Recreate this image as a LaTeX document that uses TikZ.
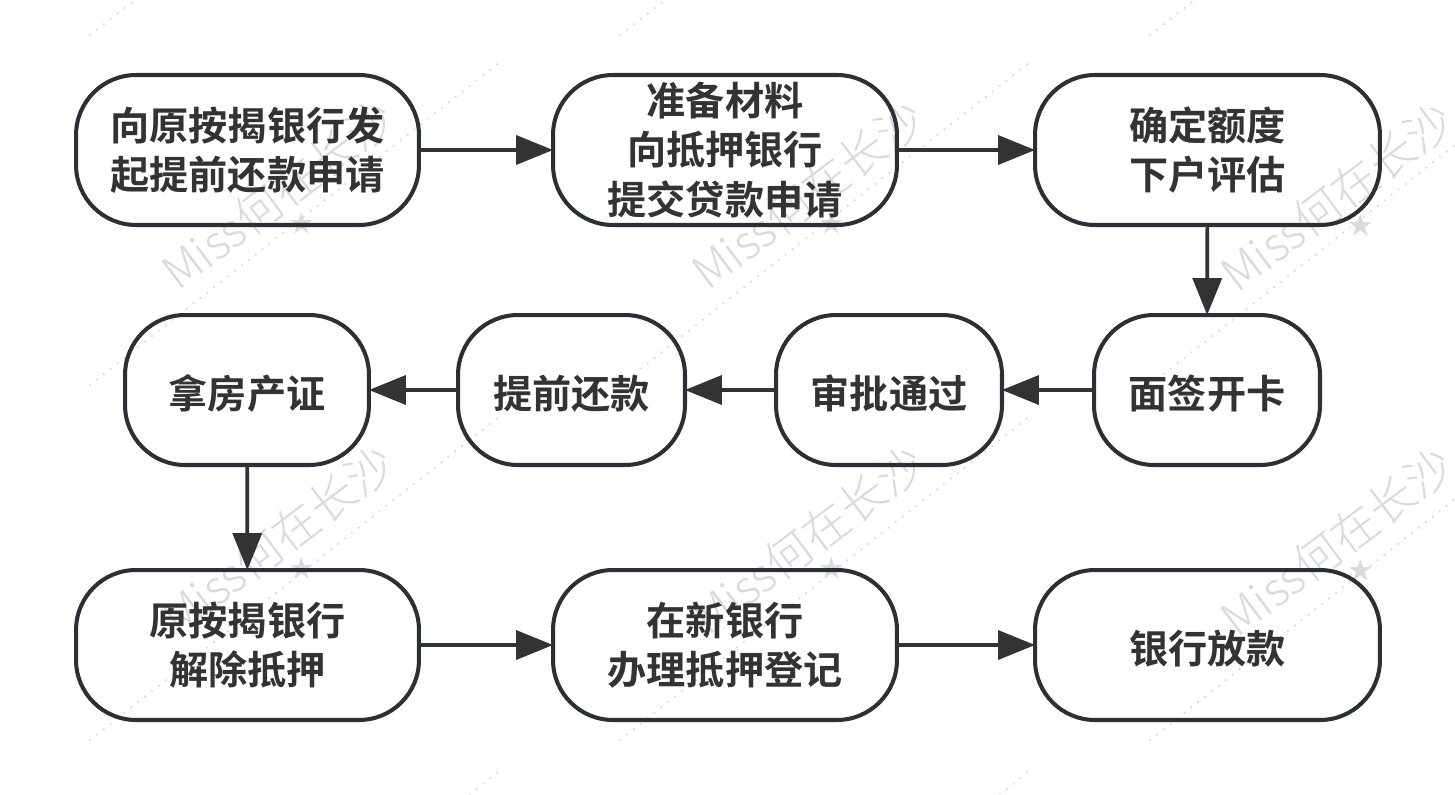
\documentclass[tikz,border=0pt]{standalone}
\usepackage{fontspec}
\setmainfont[BoldFont=* Bold]{Noto Sans CJK SC}
\newfontfamily\wmfont{Noto Sans CJK SC Light}
\usetikzlibrary{arrows.meta}
\definecolor{boxline}{HTML}{2B3036}
\definecolor{inkgray}{HTML}{333333}
\definecolor{wmgray}{HTML}{D9DADD}
\tikzset{
  flowbox/.style={draw=boxline,line width=2.3pt,rounded corners=1.2cm,minimum height=3cm,
    align=center,text=inkgray,inner sep=0pt,outer sep=0pt,
    font=\fontsize{22.3}{28}\selectfont\bfseries,
    execute at begin node={\rule{0pt}{1.03em}}},
  flowarrow/.style={draw=inkgray,line width=2.1pt,-{Triangle[length=0.74cm,width=0.58cm]}},
  wmtext/.style={text=wmgray,rotate=37,inner sep=0pt,font=\wmfont\fontsize{26.4}{26.4}\selectfont},
  wmstar/.style={text=wmgray,inner sep=0pt,font=\fontsize{14}{14}\selectfont},
  wmdots/.style={draw=wmgray,line width=1.4pt,line cap=round,dash pattern=on 0pt off 5pt}
}
\begin{document}
\begin{tikzpicture}[x=0.02cm,y=-0.02cm]
  \useasboundingbox (0,0) rectangle (1455,795);

  % 水印
  \foreach \wx/\wy/\wname in {278/195/wa,808/195/wb,1337/197/wc,278/540/wd,808/540/we,1337/542/wf}{
    \node[wmtext] (\wname) at (\wx,\wy) {Miss何在长沙};
    \node[wmstar] (\wname star) at (\wx+24,\wy+28) {★};
  }
  \foreach \dx in {0,530,1060}{
    \draw[wmdots] (90+\dx,35) -- (135+\dx,0);
    \draw[wmdots] (90+\dx,385) -- ({min(500+\dx,1455)},{\dx>1000 ? 145 : 62});
    \draw[wmdots] (90+\dx,740) -- ({min(500+\dx,1455)},{\dx>1000 ? 499 : 416});
  }
  \draw[wmdots] (470,795) -- (500,770);
  \draw[wmdots] (1000,795) -- (1030,770);

  % 第一行
  \node[flowbox,minimum width=6.86cm] (apply) at (247.5,150) {向原按揭银行发\\起提前还款申请};
  \node[flowbox,minimum width=6.88cm] (prepare) at (725,150) {准备材料\\向抵押银行\\提交贷款申请};
  \node[flowbox,minimum width=6.9cm] (quota) at (1207.5,150) {确定额度\\下户评估};

  % 第二行
  \node[flowbox,minimum width=4.88cm] (deed) at (247,390) {拿房产证};
  \node[flowbox,minimum width=4.54cm] (repay) at (571.5,390) {提前还款};
  \node[flowbox,minimum width=4.52cm] (approve) at (889,390) {审批通过};
  \node[flowbox,minimum width=4.52cm] (sign) at (1207,390) {面签开卡};

  % 第三行
  \node[flowbox,minimum width=6.86cm] (release) at (247.5,645) {原按揭银行\\解除抵押};
  \node[flowbox,minimum width=6.88cm] (register) at (725,645) {在新银行\\办理抵押登记};
  \node[flowbox,minimum width=6.9cm] (loan) at (1207.5,645) {银行放款};

  % 箭头
  \draw[flowarrow] (apply) -- (prepare);
  \draw[flowarrow] (prepare) -- (quota);
  \draw[flowarrow] (quota) -- (sign);
  \draw[flowarrow] (sign) -- (approve);
  \draw[flowarrow] (approve) -- (repay);
  \draw[flowarrow] (repay) -- (deed);
  \draw[flowarrow] (deed) -- (release);
  \draw[flowarrow] (release) -- (register);
  \draw[flowarrow] (register) -- (loan);
\end{tikzpicture}
\end{document}
